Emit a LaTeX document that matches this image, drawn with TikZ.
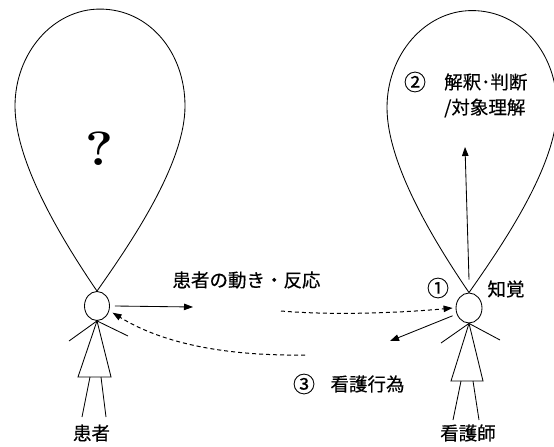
\documentclass[tikz,border=0pt]{standalone}
\usepackage{fontspec}
\newfontfamily\jp[FakeBold=0.35]{Noto Sans CJK JP}
\usetikzlibrary{arrows.meta,shapes.geometric}
\begin{document}
\begin{tikzpicture}[x=1bp,y=-1bp,
  stroke/.style={line width=0.85bp},
  headshape/.style={ellipse,draw,line width=0.85bp,inner sep=0pt},
  txt/.style={font=\jp\fontsize{18.5bp}{22bp}\selectfont,inner sep=0pt},
  circnum/.style={font=\jp\fontsize{22bp}{22bp}\selectfont,inner sep=0pt},
  arrowtip/.style={-{Triangle[length=9bp,width=6.5bp]}},
  dashline/.style={line width=1bp,dash pattern=on 4bp off 3bp},
  balloon/.pic={
    \draw[stroke] (0,0)
      .. controls (-32,-47) and (-82,-127) .. (-82,-185)
      .. controls (-82,-238) and (-44,-282) .. (3,-282)
      .. controls (52,-282) and (88,-239) .. (88,-185)
      .. controls (88,-127) and (33,-47) .. (0,0);
  }]
\useasboundingbox (0,0) rectangle (554,447);
\clip (0,0) rectangle (554,447);

% heads
\node[headshape,minimum width=25bp,minimum height=29bp] (phead) at (97,306) {};
\node[headshape,minimum width=26bp,minimum height=30bp] (nhead) at (469,308) {};

% thought balloons rising from the heads
\pic at (phead.north) {balloon};
\pic at (nhead.north) {balloon};

% patient figure
\coordinate (pneck) at (phead.south);
\coordinate (parmL) at (69,341);
\coordinate (parmR) at (128,336);
\coordinate (pbaseL) at (78,377);
\coordinate (pbaseR) at (111,377);
\coordinate (plegLt) at (90,377);
\coordinate (plegLb) at (82,417);
\coordinate (plegRt) at (101,377);
\coordinate (plegRb) at (106,417);
\draw[stroke] (parmL) -- (pneck) -- (parmR);
\draw[stroke] (pneck) -- (pbaseL) -- (pbaseR) -- cycle;
\draw[stroke] (plegLt) -- (plegLb) (plegRt) -- (plegRb);

% nurse figure
\coordinate (nneck) at (nhead.south);
\coordinate (narmL) at (441,343);
\coordinate (narmR) at (500,340);
\coordinate (nbaseL) at (451,381);
\coordinate (nbaseR) at (483,381);
\coordinate (nlegLt) at (461,381);
\coordinate (nlegLb) at (453,420);
\coordinate (nlegRt) at (473,381);
\coordinate (nlegRb) at (479,420);
\draw[stroke] (narmL) -- (nneck) -- (narmR);
\draw[stroke] (nneck) -- (nbaseL) -- (nbaseR) -- cycle;
\draw[stroke] (nlegLt) -- (nlegLb) (nlegRt) -- (nlegRb);

% question mark in the patient's balloon
\node[inner sep=0pt,font=\bfseries\fontsize{48bp}{48bp}\selectfont] (qmark) at (100,149) {\scalebox{1.1}[1]{?}};

% labels
\node[txt] (pmsg) at (246.5,280) {患者の動き・反応};
\node[circnum] (n1) at (438,288) {①};
\node[txt] (perc) at (506,289) {知覚};
\node[circnum] (n2) at (415,82) {②};
\node[txt,anchor=west] (interp) at (444,82) {解釈･判断};
\node[txt,anchor=west] (understand) at (444,108) {/対象理解};
\node[circnum] (n3) at (304,384) {③};
\node[txt] (actlabel) at (367.5,384) {看護行為};
\node[txt] (plabel) at (91.5,433) {患者};
\node[txt] (nlabel) at (468,433) {看護師};

% connectors
\coordinate (pout) at (193,307);
\draw[stroke,arrowtip] ([xshift=5bp]phead.east) -- (pout);

\coordinate (cue) at (281,311);
\draw[stroke,dashline,arrowtip] (cue) .. controls (340,316) and (410,312) .. ([xshift=-3bp]nhead.west);

\coordinate (think) at (465,147);
\draw[stroke,arrowtip] ([yshift=13bp]nhead.north) -- (think);

\coordinate (act) at (390,341);
\draw[stroke,arrowtip] ([shift={(-4bp,-2bp)}]nhead.205) -- (act);

\coordinate (care) at (305,355);
\draw[stroke,dashline,arrowtip] (care) .. controls (230,356) and (165,345) .. ([xshift=4bp]phead.-30);
\end{tikzpicture}
\end{document}
